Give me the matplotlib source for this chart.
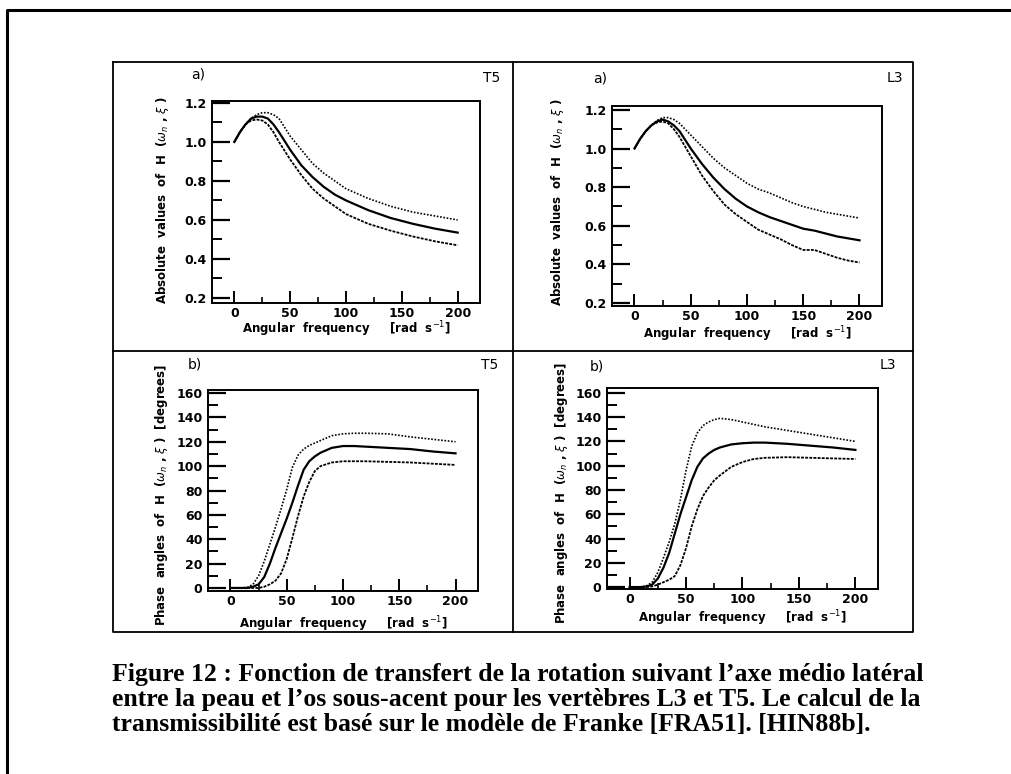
import matplotlib.pyplot as plt
import numpy as np

plt.rcParams['font.family'] = 'DejaVu Sans'

# --- donnees ---
w_abs_t5 = [0, 5, 10, 15, 20, 25, 30, 35, 40, 50, 60, 70, 80, 90, 100, 120, 140, 160, 180, 200]
abs_t5_haut = [1.0, 1.05, 1.09, 1.12, 1.14, 1.15, 1.15, 1.14, 1.12, 1.03, 0.96, 0.89, 0.84, 0.80, 0.76, 0.71, 0.67, 0.64, 0.62, 0.60]
abs_t5_moy = [1.0, 1.05, 1.09, 1.12, 1.13, 1.13, 1.12, 1.09, 1.05, 0.96, 0.88, 0.82, 0.77, 0.73, 0.70, 0.65, 0.61, 0.58, 0.555, 0.535]
abs_t5_bas = [1.0, 1.05, 1.09, 1.11, 1.115, 1.11, 1.09, 1.05, 1.00, 0.91, 0.83, 0.76, 0.71, 0.67, 0.63, 0.58, 0.545, 0.515, 0.49, 0.47]

w_abs_l3 = [0, 5, 10, 15, 20, 25, 30, 35, 40, 50, 60, 70, 80, 90, 100, 110, 120, 130, 140, 150, 160, 170, 180, 190, 200]
abs_l3_haut = [1.0, 1.05, 1.09, 1.12, 1.145, 1.16, 1.16, 1.15, 1.13, 1.07, 1.01, 0.95, 0.90, 0.86, 0.82, 0.79, 0.77, 0.745, 0.72, 0.70, 0.685, 0.67, 0.66, 0.65, 0.64]
abs_l3_moy = [1.0, 1.05, 1.09, 1.12, 1.14, 1.15, 1.14, 1.12, 1.09, 1.00, 0.92, 0.85, 0.79, 0.74, 0.70, 0.67, 0.645, 0.625, 0.605, 0.585, 0.575, 0.56, 0.545, 0.535, 0.525]
abs_l3_bas = [1.0, 1.05, 1.09, 1.12, 1.135, 1.14, 1.13, 1.10, 1.06, 0.96, 0.86, 0.78, 0.71, 0.66, 0.62, 0.58, 0.555, 0.53, 0.50, 0.475, 0.475, 0.455, 0.435, 0.42, 0.41]

w_phase = [0, 10, 15, 20, 25, 30, 35, 40, 45, 50, 55, 60, 65, 70, 75, 80, 90, 100, 110, 120, 140, 160, 180, 200]
phase_t5_haut = [0, 0, 0.5, 3, 10, 22, 36, 50, 65, 81, 99, 109, 114, 117, 119, 121, 125, 126.5, 127, 127, 126.5, 124, 122, 120]
phase_t5_moy = [0, 0, 0, 1, 3, 9, 20, 33, 45, 57, 70, 84, 97, 104, 108, 111, 115, 116.5, 116.5, 116, 115, 114, 112, 110.5]
phase_t5_bas = [0, 0, 0, 0, 0, 1, 3, 6, 12, 24, 41, 59, 75, 87, 96, 100, 103, 104, 104, 104, 103.5, 103, 102, 101]

phase_l3_haut = [0, 0, 1, 4, 12, 24, 37, 52, 72, 96, 116, 127, 133, 136, 138, 139, 138, 136, 134, 132, 129, 126, 123, 120]
phase_l3_moy = [0, 0, 0.5, 2, 7, 16, 28, 44, 60, 74, 88, 99, 106, 110, 113, 115, 117.5, 118.5, 119, 119, 118, 116.5, 115, 113]
phase_l3_bas = [0, 0, 0, 0.5, 2, 4, 6, 9, 18, 32, 50, 64, 75, 82, 88, 92, 99, 103, 105.5, 106.5, 107, 106.5, 106, 105.5]

lbl_abs = r'Absolute  values  of  H  ($\omega_n$ , $\xi$ )'
lbl_phase = r'Phase  angles  of  H  ($\omega_n$ , $\xi$ )  [degrees]'
lbl_x = r'Angular  frequency     [rad  s$^{-1}$]'

legende = ["Figure 12 : Fonction de transfert de la rotation suivant l\u2019axe médio latéral",
           "entre la peau et l\u2019os sous-acent pour les vertèbres L3 et T5. Le calcul de la",
           "transmissibilité est basé sur le modèle de Franke [FRA51]. [HIN88b]."]

fig = plt.figure(figsize=(10.12, 7.74), dpi=100)

# fond en pixels pour les cadres et les textes
bg = fig.add_axes([0, 0, 1, 1])
bg.set_xlim(0, 1012)
bg.set_ylim(774, 0)
bg.axis('off')
bg.plot([7, 7, 1012], [774, 10, 10], color='black', lw=2.2)
bg.plot([113, 913, 913, 113, 113], [62, 62, 632, 632, 62], color='black', lw=1.3)
bg.plot([513, 513], [62, 632], color='black', lw=1.3)
bg.plot([113, 913], [351, 351], color='black', lw=1.3)


def panneau(rect, w, haut, moy, bas, ylim, yticks, yminor):
    ax = fig.add_axes(rect)
    ax.plot(w, haut, color='black', lw=1.2, linestyle=(0, (1, 1)))
    ax.plot(w, moy, color='black', lw=1.6)
    ax.plot(w, bas, color='black', lw=1.3, linestyle=(0, (1.6, 0.7)))
    ax.set_xlim(-20, 220)
    ax.set_ylim(*ylim)
    ax.set_xticks([0, 50, 100, 150, 200])
    ax.set_xticks([25, 75, 125, 175], minor=True)
    ax.set_yticks(yticks)
    ax.set_yticks(yminor, minor=True)
    for s in ax.spines.values():
        s.set_linewidth(1.4)
    ax.tick_params(axis='y', which='major', direction='in', length=13, width=1.6, pad=4, labelsize=9)
    ax.tick_params(axis='y', which='minor', direction='in', length=7, width=1.4)
    ax.tick_params(axis='x', which='major', direction='in', length=9, width=1.4, pad=3, labelsize=9)
    ax.tick_params(axis='x', which='minor', direction='in', length=4, width=1.2)
    return ax


yt_abs = [0.2, 0.4, 0.6, 0.8, 1.0, 1.2]
ym_abs = [0.3, 0.5, 0.7, 0.9, 1.1]
ax1 = panneau([212 / 1012, 1 - 303 / 774, 268 / 1012, 202 / 774], w_abs_t5,
              abs_t5_haut, abs_t5_moy, abs_t5_bas, (0.174, 1.21), yt_abs, ym_abs)
ax1.set_yticklabels(['0.2', '0.4', '0.6', '0.8', '1.0', '1.2'])
ax2 = panneau([612 / 1012, 1 - 306 / 774, 270 / 1012, 200 / 774], w_abs_l3,
              abs_l3_haut, abs_l3_moy, abs_l3_bas, (0.185, 1.22), yt_abs, ym_abs)
ax2.set_yticklabels(['0.2', '0.4', '0.6', '0.8', '1.0', '1.2'])

yt_ph = list(range(0, 161, 20))
ym_ph = list(range(10, 151, 20))
ax3 = panneau([208 / 1012, 1 - 591 / 774, 270 / 1012, 201 / 774], w_phase,
              phase_t5_haut, phase_t5_moy, phase_t5_bas, (-2.5, 162.5), yt_ph, ym_ph)
ax4 = panneau([607 / 1012, 1 - 589 / 774, 271 / 1012, 201 / 774], w_phase,
              phase_l3_haut, phase_l3_moy, phase_l3_bas, (-1.6, 164), yt_ph, ym_ph)

for ax in (ax1, ax2, ax3, ax4):
    for t in ax.get_xticklabels() + ax.get_yticklabels():
        t.set_fontweight('bold')

# textes des panneaux
kw = dict(fontsize=10, ha='center', va='center')
bg.text(198, 75, 'a)', **kw)
bg.text(492, 78, 'T5', **kw)
bg.text(600, 78, 'a)', **kw)
bg.text(895, 78, 'L3', **kw)
bg.text(195, 365, 'b)', **kw)
bg.text(490, 365, 'T5', **kw)
bg.text(597, 366, 'b)', **kw)
bg.text(888, 365, 'L3', **kw)

kl = dict(fontsize=8.5, fontweight='bold', ha='center', va='center')
bg.text(163, 200, lbl_abs, rotation=90, **kl)
bg.text(558, 202, lbl_abs, rotation=90, **kl)
bg.text(162, 495, lbl_phase, rotation=90, **kl)
bg.text(562, 493, lbl_phase, rotation=90, **kl)
bg.text(346, 329, lbl_x, **kl)
bg.text(747, 334, lbl_x, **kl)
bg.text(343, 624, lbl_x, **kl)
bg.text(742, 618, lbl_x, **kl)

for i, ligne in enumerate(legende):
    bg.text(112, 674 + 25.5 * i, ligne, family='Liberation Serif', fontweight='bold',
            fontsize=18.5, ha='left', va='center')

fig.savefig('out.png', dpi=100)
